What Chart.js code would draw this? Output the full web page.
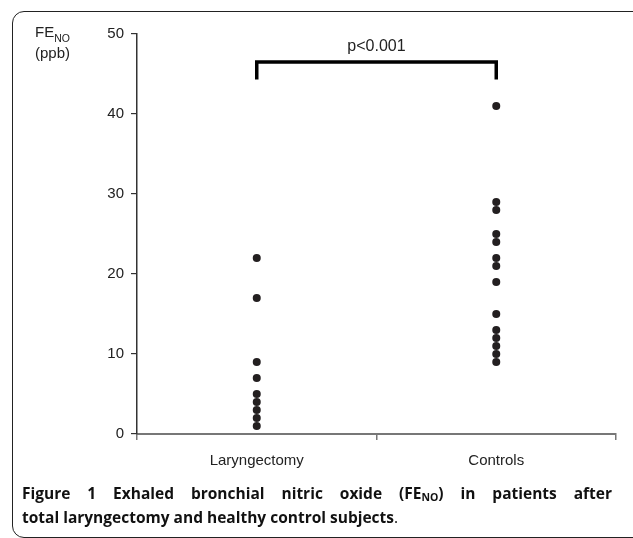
<!DOCTYPE html>
<html>
<head>
<meta charset="utf-8">
<script src="https://cdn.jsdelivr.net/npm/chart.js@4/dist/chart.umd.min.js"></script>
<style>
  html, body { margin: 0; padding: 0; background: #fff; }
  #wrap { position: relative; width: 633px; height: 538px; overflow: hidden; background: #fff; }
  #frame { position: absolute; left: 12px; top: 11px; width: 700px; height: 525px;
           border: 1.5px solid #222; border-radius: 12px; }
  #c { position: absolute; left: 0; top: 0; }
  .ylab { position: absolute; font-family: "Liberation Sans", Arial, sans-serif; color: #222; font-size: 15px; line-height: 1; }
  .cap { position: absolute; left: 22px; width: 590px;
         font-family: "Open Sans", sans-serif; font-size: 15.5px; line-height: 24px; color: #111; white-space: nowrap; }
  #cap1 { top: 481px; text-align: justify; text-align-last: justify; white-space: normal; }
  #cap2 { top: 505px; }
  .cap b { font-weight: 700; }
  .cap sub { font-size: 10.5px; vertical-align: -2px; line-height: 0; }
</style>
</head>
<body>
<div id="wrap">
  <div id="frame"></div>
  <canvas id="c" width="633" height="538"></canvas>
  <div class="ylab" style="left:35px; top:24px;">FE<span style="font-size:10.5px; position:relative; top:5px;">NO</span></div>
  <div class="ylab" style="left:35px; top:45px;">(ppb)</div>
  <div id="cap1" class="cap"><b>Figure 1 Exhaled bronchial nitric oxide (FE<sub>NO</sub>) in patients after</b></div>
  <div id="cap2" class="cap"><b>total laryngectomy and healthy control subjects</b>.</div>
</div>
<script>
// ---- data ----
const categories = ['Laryngectomy', 'Controls'];
const laryngectomy = [22, 17, 9, 7, 5, 4, 3, 2, 1];
const controls = [41, 29, 28, 25, 24, 22, 21, 19, 15, 13, 12, 11, 10, 9];
const yTicks = [0, 10, 20, 30, 40, 50];
const pLabel = 'p<0.001';
const bracketLow = 44.3;
const bracketHigh = 46.5;

const groups = [laryngectomy, controls];
const datasets = groups.map((vals, gi) => ({
  label: categories[gi],
  data: vals.map(v => ({ x: gi + 0.5, y: v })),
  pointRadius: 4,
  pointHoverRadius: 4,
  pointBackgroundColor: '#231f20',
  pointBorderColor: '#231f20',
  pointBorderWidth: 0,
  showLine: false
}));

const bracketPlugin = {
  id: 'bracket',
  afterDatasetsDraw(chart) {
    const { ctx, scales: { x, y } } = chart;
    const x1 = x.getPixelForValue(0.5), x2 = x.getPixelForValue(1.5);
    const yl = y.getPixelForValue(bracketLow), yh = y.getPixelForValue(bracketHigh);
    ctx.save();
    ctx.strokeStyle = '#000';
    ctx.lineWidth = 3.5;
    ctx.lineJoin = 'miter';
    ctx.beginPath();
    ctx.moveTo(x1, yl);
    ctx.lineTo(x1, yh);
    ctx.lineTo(x2, yh);
    ctx.lineTo(x2, yl);
    ctx.stroke();
    ctx.fillStyle = '#222';
    ctx.font = '16px "Liberation Sans", Arial, sans-serif';
    ctx.textAlign = 'center';
    ctx.textBaseline = 'alphabetic';
    ctx.fillText(pLabel, x.getPixelForValue(1), yh - 11);
    ctx.restore();
  }
};

new Chart(document.getElementById('c'), {
  type: 'scatter',
  data: { datasets },
  options: {
    responsive: false,
    animation: false,
    events: [],
    layout: { padding: { left: 0, right: 17, top: 34, bottom: 64 } },
    plugins: { legend: { display: false }, tooltip: { enabled: false } },
    scales: {
      x: {
        type: 'linear', min: 0, max: 2,
        afterBuildTicks(scale) { scale.ticks = [0, 0.5, 1, 1.5, 2].map(v => ({ value: v })); },
        afterFit(scale) { scale.height = 40; },
        ticks: {
          autoSkip: false, maxRotation: 0, padding: 12, color: '#222',
          font: { family: '"Liberation Sans", Arial, sans-serif', size: 15 },
          callback(value) { return (value % 1 !== 0) ? categories[Math.floor(value)] : ''; }
        },
        grid: {
          drawOnChartArea: false, drawTicks: true, tickLength: 6, lineWidth: 1.5,
          color: (c) => (c.tick && c.tick.value % 1 === 0) ? '#777' : 'rgba(0,0,0,0)'
        },
        border: { display: true, color: '#777', width: 2 }
      },
      y: {
        type: 'linear', min: 0, max: 50,
        afterBuildTicks(scale) { scale.ticks = yTicks.map(v => ({ value: v })); },
        afterFit(scale) { scale.width = 137; },
        ticks: {
          padding: 7, color: '#222',
          font: { family: '"Liberation Sans", Arial, sans-serif', size: 15 }
        },
        grid: { drawOnChartArea: false, drawTicks: true, tickLength: 6, color: '#333', lineWidth: 1.2 },
        border: { display: true, color: '#333', width: 1.5 }
      }
    }
  },
  plugins: [bracketPlugin]
});
</script>
</body>
</html>
